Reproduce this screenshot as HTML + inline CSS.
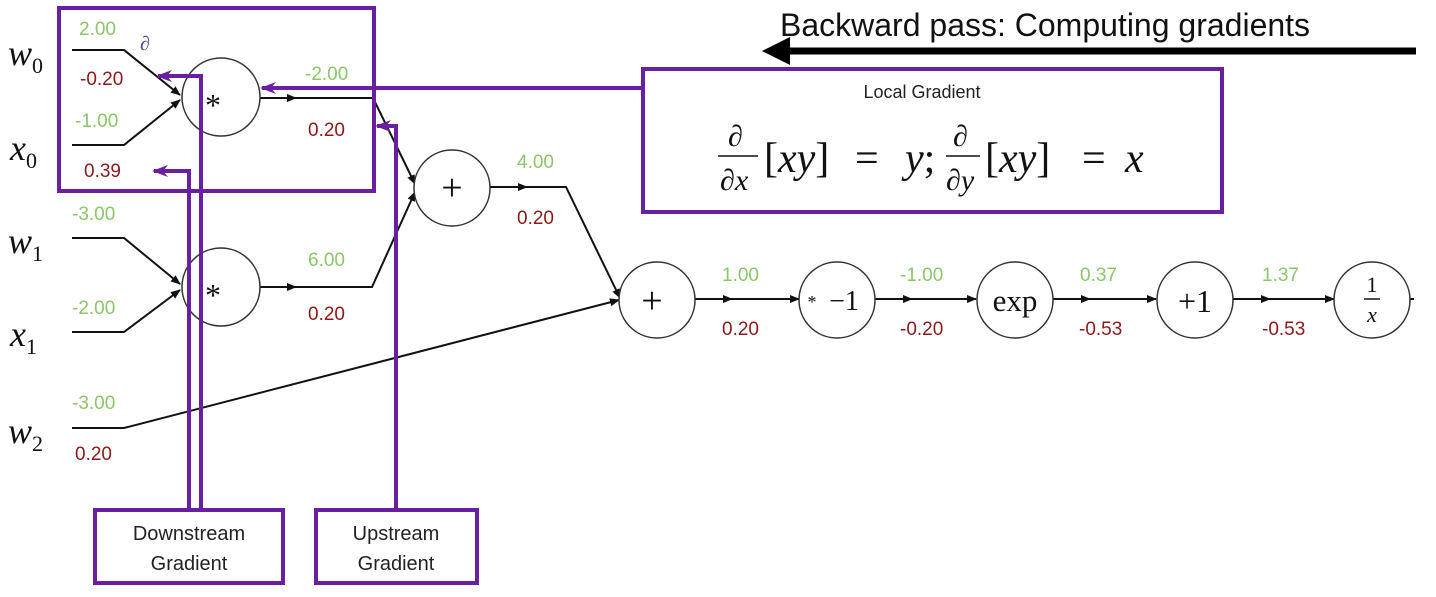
<!DOCTYPE html>
<html><head><style>
html,body{margin:0;padding:0;background:#fff;}
svg{display:block;}
.g{fill:#8dc66a;font-family:"Liberation Sans",sans-serif;font-size:19px;}
.r{fill:#8b1a1a;font-family:"Liberation Sans",sans-serif;font-size:19px;}
.v{font-family:"Liberation Serif",serif;font-style:italic;font-size:36px;fill:#111;}
.s{font-family:"Liberation Serif",serif;font-size:22px;}
.lbl{font-family:"Liberation Sans",sans-serif;font-size:20px;fill:#222;}
</style></head><body>
<svg width="1436" height="597" viewBox="0 0 1436 597" xmlns="http://www.w3.org/2000/svg">
<defs>
<marker id="a" markerWidth="10" markerHeight="8" refX="9" refY="4" orient="auto" markerUnits="userSpaceOnUse"><path d="M0,0 L10,4 L0,8 Z" fill="#111"/></marker>
<marker id="p" markerWidth="16" markerHeight="12" refX="14" refY="6" orient="auto" markerUnits="userSpaceOnUse"><path d="M0,0 L16,6 L0,12 L5,6 Z" fill="#6a1fa0"/></marker>
</defs>

<text x="780" y="36" font-family="Liberation Sans,sans-serif" font-size="32" fill="#111">Backward pass: Computing gradients</text>
<line x1="1416" y1="51" x2="790" y2="51" stroke="#000" stroke-width="7"/>
<path d="M762,51 L790,37 L790,65 Z" fill="#000"/>

<g stroke="#111" stroke-width="2" fill="none">
<polyline points="72,50 124,50 180,95" marker-end="url(#a)"/>
<polyline points="72,145 124,145 180,100" marker-end="url(#a)"/>
<polyline points="72,238 124,238 180,284" marker-end="url(#a)"/>
<polyline points="72,332 124,332 180,290" marker-end="url(#a)"/>
<line x1="260" y1="98" x2="296" y2="98" marker-end="url(#a)"/>
<polyline points="294,98 373,98 415,184" marker-end="url(#a)"/>
<line x1="260" y1="287" x2="296" y2="287" marker-end="url(#a)"/>
<polyline points="294,287 372,287 415,192" marker-end="url(#a)"/>
<line x1="490" y1="187" x2="527" y2="187" marker-end="url(#a)"/>
<polyline points="525,187 566,187 620,298" marker-end="url(#a)"/>
<polyline points="72,428 124,428 619,300" marker-end="url(#a)"/>
<line x1="695" y1="299" x2="732" y2="299" marker-end="url(#a)"/>
<line x1="730" y1="299" x2="799" y2="299" marker-end="url(#a)"/>
<line x1="875" y1="299" x2="912" y2="299" marker-end="url(#a)"/>
<line x1="910" y1="299" x2="976" y2="299" marker-end="url(#a)"/>
<line x1="1053" y1="299" x2="1090" y2="299" marker-end="url(#a)"/>
<line x1="1088" y1="299" x2="1156" y2="299" marker-end="url(#a)"/>
<line x1="1233" y1="299" x2="1270" y2="299" marker-end="url(#a)"/>
<line x1="1268" y1="299" x2="1334" y2="299" marker-end="url(#a)"/>
<line x1="1410" y1="299" x2="1414" y2="299"/>
</g>

<g fill="#fff" stroke="#333" stroke-width="1.5">
<circle cx="221" cy="97" r="39"/>
<circle cx="221" cy="287" r="39"/>
<circle cx="452" cy="188" r="38"/>
<circle cx="657" cy="300" r="38"/>
<circle cx="837" cy="300" r="38"/>
<circle cx="1015" cy="300" r="38"/>
<circle cx="1195" cy="300" r="38"/>
<circle cx="1372" cy="300" r="38"/>
</g>
<g font-family="Liberation Serif,serif" fill="#111" text-anchor="middle">
<text x="213" y="116" font-size="32">*</text>
<text x="213" y="306" font-size="32">*</text>
<text x="452" y="200" font-size="38">+</text>
<text x="652" y="313" font-size="38">+</text>
<text x="812" y="308" font-size="18">*</text>
<text x="844" y="310" font-size="28">−1</text>
<text x="1015" y="311" font-size="31">exp</text>
<text x="1195" y="312" font-size="32">+1</text>
<text x="1372" y="292" font-size="22">1</text>
<line x1="1364" y1="299" x2="1380" y2="299" stroke="#111" stroke-width="1.5"/>
<text x="1372" y="322" font-size="22" font-style="italic">x</text>
</g>

<text class="v" x="8" y="65">w<tspan class="s" dy="8" font-style="normal">0</tspan></text>
<text class="v" x="10" y="160">x<tspan class="s" dy="8" font-style="normal">0</tspan></text>
<text class="v" x="8" y="253">w<tspan class="s" dy="8" font-style="normal">1</tspan></text>
<text class="v" x="10" y="346">x<tspan class="s" dy="8" font-style="normal">1</tspan></text>
<text class="v" x="8" y="443">w<tspan class="s" dy="8" font-style="normal">2</tspan></text>

<text class="g" x="79" y="35">2.00</text>
<text class="r" x="80" y="85">-0.20</text>
<text class="g" x="75" y="127">-1.00</text>
<text class="r" x="84" y="177">0.39</text>
<text class="g" x="72" y="220">-3.00</text>
<text class="g" x="72" y="314">-2.00</text>
<text class="g" x="72" y="409">-3.00</text>
<text class="r" x="75" y="460">0.20</text>
<text class="g" x="305" y="80">-2.00</text>
<text class="r" x="308" y="136">0.20</text>
<text class="g" x="308" y="266">6.00</text>
<text class="r" x="308" y="320">0.20</text>
<text class="g" x="517" y="168">4.00</text>
<text class="r" x="517" y="224">0.20</text>
<text class="g" x="722" y="281">1.00</text>
<text class="r" x="722" y="335">0.20</text>
<text class="g" x="900" y="281">-1.00</text>
<text class="r" x="900" y="335">-0.20</text>
<text class="g" x="1080" y="281">0.37</text>
<text class="r" x="1079" y="335">-0.53</text>
<text class="g" x="1262" y="281">1.37</text>
<text class="r" x="1262" y="335">-0.53</text>
<text x="140" y="50" font-family="Liberation Serif,serif" font-style="italic" font-size="20" fill="#4a4aa0">∂</text>

<g stroke="#6a1fa0" stroke-width="4" fill="none">
<rect x="59" y="8" width="315" height="183"/>
<rect x="643" y="69" width="579" height="143"/>
<rect x="95" y="510" width="188" height="73"/>
<rect x="316" y="510" width="161" height="73"/>
<polyline points="643,88 262,88" marker-end="url(#p)"/>
<polyline points="201,510 201,76 158,76" marker-end="url(#p)"/>
<polyline points="189,510 189,171 154,171" marker-end="url(#p)"/>
<polyline points="396,510 396,126 377,126" marker-end="url(#p)"/>
</g>

<text x="922" y="98" text-anchor="middle" font-family="Liberation Sans,sans-serif" font-size="18" fill="#222">Local Gradient</text>
<g font-family="Liberation Serif,serif" font-style="italic" font-size="42" fill="#111">
<text x="728" y="146" font-size="30">∂</text>
<line x1="718" y1="156" x2="758" y2="156" stroke="#111" stroke-width="1.5"/>
<text x="720" y="190" font-size="30">∂x</text>
<text x="764" y="172"><tspan font-style="normal">[</tspan>xy<tspan font-style="normal">]</tspan></text>
<text x="855" y="172" font-style="normal">=</text>
<text x="905" y="172">y<tspan font-style="normal">;</tspan></text>
<text x="953" y="146" font-size="30">∂</text>
<line x1="946" y1="156" x2="980" y2="156" stroke="#111" stroke-width="1.5"/>
<text x="946" y="190" font-size="30">∂y</text>
<text x="985" y="172"><tspan font-style="normal">[</tspan>xy<tspan font-style="normal">]</tspan></text>
<text x="1082" y="172" font-style="normal">=</text>
<text x="1125" y="172">x</text>
</g>

<text class="lbl" x="189" y="540" text-anchor="middle">Downstream</text>
<text class="lbl" x="189" y="570" text-anchor="middle">Gradient</text>
<text class="lbl" x="396" y="540" text-anchor="middle">Upstream</text>
<text class="lbl" x="396" y="570" text-anchor="middle">Gradient</text>
</svg>
</body></html>
